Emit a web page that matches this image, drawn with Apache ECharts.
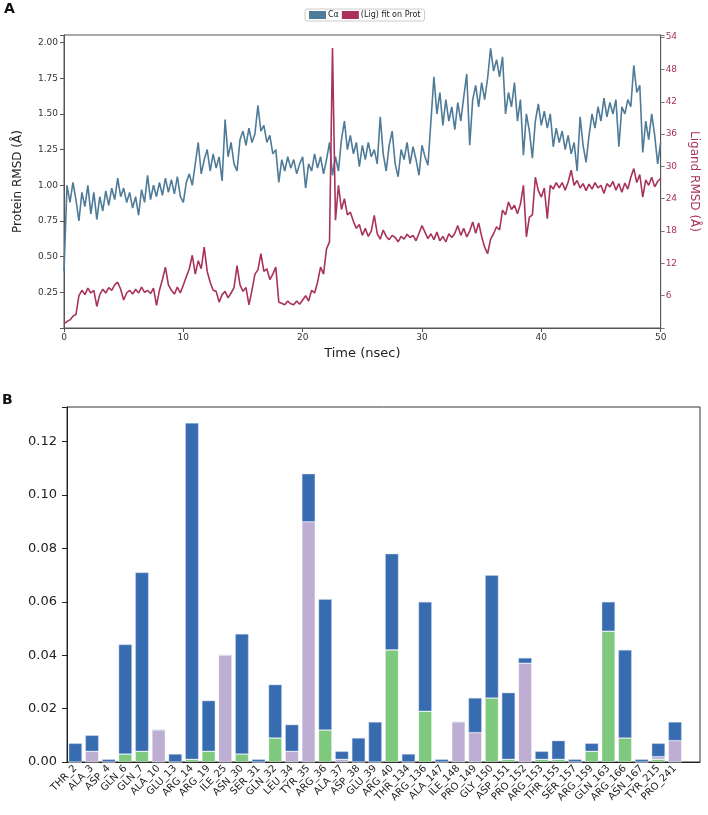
<!DOCTYPE html>
<html>
<head>
<meta charset="utf-8">
<script src="https://cdn.jsdelivr.net/npm/echarts@6/dist/echarts.min.js"></script>
<style>
html,body{margin:0;padding:0;background:#fff;}
#main{width:708px;height:815px;}
</style>
</head>
<body>
<div id="main"></div>
<script>
// panel A: RMSD sampled every 0.25 ns
var timeStep = 0.25;
var proteinRmsd = [
0.40,1.00,0.88,1.02, 0.90,0.75,0.95,0.85, 1.00,0.80,0.95,0.76, 0.92,0.82,0.96,0.86,
0.98,0.90,1.05,0.92, 0.98,0.88,0.95,0.84, 0.92,0.79,0.97,0.88, 1.07,0.90,1.00,0.92,
1.02,0.93,1.05,0.95, 1.04,0.94,1.06,0.92, 0.88,1.02,1.08,1.00, 1.15,1.30,1.08,1.18,
1.25,1.10,1.22,1.12, 1.20,1.03,1.46,1.20, 1.30,1.15,1.10,1.32, 1.38,1.28,1.40,1.30,
1.36,1.56,1.38,1.42, 1.30,1.35,1.22,1.25, 1.02,1.18,1.10,1.20, 1.12,1.18,1.08,1.15,
1.20,0.98,1.15,1.10, 1.22,1.12,1.20,1.08, 1.18,1.30,1.07,1.20, 1.10,1.32,1.45,1.25,
1.35,1.22,1.30,1.13, 1.28,1.18,1.30,1.20, 1.25,1.15,1.48,1.22, 1.10,1.28,1.38,1.15,
1.06,1.25,1.18,1.30, 1.15,1.27,1.18,1.07, 1.28,1.20,1.14,1.45, 1.76,1.50,1.65,1.42,
1.60,1.45,1.55,1.39, 1.58,1.45,1.62,1.78, 1.28,1.60,1.70,1.55, 1.72,1.60,1.75,1.96,
1.80,1.88,1.76,1.90, 1.50,1.65,1.55,1.72, 1.45,1.60,1.21,1.50, 1.38,1.19,1.45,1.57,
1.42,1.52,1.40,1.50, 1.27,1.40,1.30,1.38, 1.25,1.35,1.22,1.30, 1.10,1.48,1.28,1.16,
1.35,1.50,1.40,1.55, 1.45,1.61,1.48,1.58, 1.50,1.60,1.27,1.55, 1.50,1.60,1.55,1.84,
1.65,1.70,1.23,1.45, 1.32,1.50,1.35,1.15, 1.30
];
var ligandRmsd = [
0.8,1.2,1.5,2.2, 2.5,6.0,7.0,6.2, 7.4,6.5,7.0,4.0, 6.2,7.2,6.5,7.5,
7.0,8.0,8.5,7.2, 5.2,6.5,7.0,6.3, 7.2,6.5,7.6,6.6, 7.0,6.4,7.4,4.2,
7.0,9.0,11.3,8.0, 7.0,6.3,7.6,6.5, 8.0,9.5,11.0,13.5, 10.0,12.5,11.0,15.0,
10.5,8.5,7.0,6.8, 4.8,6.2,6.8,5.6, 6.5,7.5,11.6,8.0, 6.8,7.5,4.3,7.0,
10.0,10.8,13.8,10.5, 11.0,9.0,10.0,11.3, 4.8,4.6,4.3,5.0, 4.5,4.3,5.0,4.4,
5.2,6.0,5.0,7.0, 6.5,8.5,11.3,10.0, 14.7,16.0,52.0,20.0, 26.5,22.0,24.0,21.0,
21.5,19.8,18.5,19.2, 17.2,18.5,17.0,18.0, 20.9,17.5,16.5,18.2, 17.0,16.4,17.2,16.8,
16.0,17.0,16.5,17.4, 16.8,17.2,16.2,17.6, 19.0,17.8,16.6,17.5, 16.4,17.8,16.2,17.0,
16.0,17.5,16.8,17.6, 19.0,17.2,18.5,16.9, 18.0,19.7,17.6,19.5, 17.0,15.0,13.8,16.5,
17.5,18.8,18.2,21.9, 21.0,23.4,22.0,22.8, 21.2,23.0,26.5,16.9, 20.6,21.0,28.0,25.5,
24.3,26.0,20.3,26.5, 25.8,27.0,26.0,27.0, 25.6,27.1,29.3,26.5, 27.4,26.0,26.8,25.5,
26.7,25.8,27.0,26.0, 26.5,25.0,26.8,26.2, 27.2,25.6,26.8,25.2, 26.9,25.8,28.0,29.6,
27.0,28.5,24.3,27.5, 26.5,28.0,26.2,27.2, 27.8
];

// panel B: protein-ligand contacts
var residues = ['THR_2','ALA_3','ASP_4','GLN_6','GLN_7','ALA_10','GLU_13','ARG_14','ARG_19','ILE_25',
    'ASN_30','SER_31','GLN_32','LEU_34','TYR_35','ARG_36','ALA_37','ASP_38','GLU_39','ARG_40',
    'THR_134','ARG_136','ALA_147','ILE_148','PRO_149','GLY_150','ASP_151','PRO_152','ARG_153','THR_155',
    'SER_157','ARG_159','GLN_163','ARG_166','ASN_167','TYR_215','PRO_241',''];
var hbonds = [0,0,0,0.003,0.004,0,0,0.001,0.004,0,
    0.003,0,0.009,0,0,0.012,0,0,0,0.042,
    0,0.019,0,0,0,0.024,0.001,0,0.001,0.001,
    0,0.004,0.049,0.009,0,0.001,0];
var hydrophobic = [0,0.004,0,0,0,0.012,0,0,0,0.040,
    0,0,0,0.004,0.090,0,0.001,0,0,0,
    0,0,0,0.015,0.011,0,0,0.037,0,0,
    0,0,0,0,0,0.001,0.008];
var waterBridges = [0.007,0.006,0.001,0.041,0.067,0,0.003,0.126,0.019,0,
    0.045,0.001,0.020,0.010,0.018,0.049,0.003,0.009,0.015,0.036,
    0.003,0.041,0.001,0,0.013,0.046,0.025,0.002,0.003,0.007,
    0.001,0.003,0.011,0.033,0.001,0.005,0.007];

var protColor = '#4f7b98';
var ligColor = '#a8325c';
var font = 'DejaVu Sans';

function toPairs(arr){
    var out = [];
    for (var i = 0; i < arr.length; i++) out.push([i * timeStep, arr[i]]);
    return out;
}

var myChart = echarts.init(document.getElementById('main'));
var option = {
    backgroundColor: '#fff',
    animation: false,
    textStyle: {fontFamily: font},
    graphic: [
        {type: 'text', left: 4, top: 2, style: {text: 'A', font: 'bold 14px ' + font, fill: '#111'}},
        {type: 'text', left: 2, top: 393, style: {text: 'B', font: 'bold 14px ' + font, fill: '#111'}}
    ],
    legend: {
        data: [{name: 'Cα', icon: 'rect'}, {name: '(Lig) fit on Prot', icon: 'rect'}],
        left: 305, top: 9,
        itemWidth: 17, itemHeight: 8, itemGap: 3,
        padding: [2, 4],
        borderColor: '#cccccc', borderWidth: 1, borderRadius: 2,
        textStyle: {fontSize: 8, color: '#222', padding: [0, 0, 0, -3]}
    },
    grid: [
        {left: 64, top: 35, width: 602, height: 293, show: true, borderColor: '#555', borderWidth: 1},
        {left: 67, top: 407, width: 633, height: 355, show: true, borderColor: '#333', borderWidth: 1}
    ],
    xAxis: [
        {
            type: 'value', gridIndex: 0, min: 0, max: 50, interval: 10,
            name: 'Time (nsec)', nameLocation: 'middle', nameGap: 19,
            nameTextStyle: {fontSize: 13, color: '#222'},
            axisLine: {lineStyle: {color: '#555'}},
            axisTick: {lineStyle: {color: '#555'}, length: 4},
            axisLabel: {fontSize: 9, color: '#333', margin: 5},
            splitLine: {show: false}
        },
        {
            type: 'category', gridIndex: 1, data: residues,
            axisLine: {lineStyle: {color: '#222'}},
            axisTick: {alignWithLabel: true, interval: function(i){ return i < residues.length - 1; }, length: 5, lineStyle: {color: '#222'}},
            axisLabel: {interval: 0, rotate: 45, fontSize: 10, color: '#222', margin: 5},
            splitLine: {show: false}
        }
    ],
    yAxis: [
        {
            type: 'value', gridIndex: 0, min: 0, max: 2.053, interval: 0.25,
            name: 'Protein RMSD (Å)', nameLocation: 'middle', nameGap: 40,
            nameTextStyle: {fontSize: 12, color: '#222'},
            axisLine: {show: true, lineStyle: {color: '#555'}},
            axisTick: {show: true, length: 4, lineStyle: {color: '#555'}},
            axisLabel: {fontSize: 9, color: '#333', margin: 6,
                formatter: function(v){ return (v > 0.01 && v < 2.01) ? v.toFixed(2) : ''; }},
            splitLine: {show: false}
        },
        {
            type: 'value', gridIndex: 0, position: 'right', min: 0, max: 54.4, interval: 6,
            name: 'Ligand RMSD (Å)', nameLocation: 'middle', nameGap: 24, nameRotate: -90,
            nameTextStyle: {fontSize: 12, color: ligColor},
            axisLine: {show: true, lineStyle: {color: '#555'}},
            axisTick: {show: true, length: 4, lineStyle: {color: '#777'}},
            axisLabel: {fontSize: 9, color: ligColor, margin: 5,
                formatter: function(v){ return (v > 0 && v <= 54) ? v : ''; }},
            splitLine: {show: false}
        },
        {
            type: 'value', gridIndex: 1, min: 0, max: 0.133, interval: 0.02,
            axisLine: {show: true, lineStyle: {color: '#222'}},
            axisTick: {show: true, length: 5, lineStyle: {color: '#222'}},
            axisLabel: {fontSize: 13, color: '#222', margin: 10,
                formatter: function(v){ return v <= 0.121 ? v.toFixed(2) : ''; }},
            splitLine: {show: false}
        }
    ],
    series: [
        {
            name: 'Cα', type: 'line', xAxisIndex: 0, yAxisIndex: 0,
            data: toPairs(proteinRmsd), showSymbol: false,
            lineStyle: {color: protColor, width: 1.6}, itemStyle: {color: protColor}
        },
        {
            name: '(Lig) fit on Prot', type: 'line', xAxisIndex: 0, yAxisIndex: 1,
            data: toPairs(ligandRmsd), showSymbol: false,
            lineStyle: {color: ligColor, width: 1.6}, itemStyle: {color: ligColor}
        },
        {
            name: 'H-bonds', type: 'bar', xAxisIndex: 1, yAxisIndex: 2, stack: 'contacts',
            data: hbonds, barWidth: '80%',
            itemStyle: {color: '#7fc97f', borderColor: 'rgba(255,255,255,0.5)', borderWidth: 0.6}
        },
        {
            name: 'Hydrophobic', type: 'bar', xAxisIndex: 1, yAxisIndex: 2, stack: 'contacts',
            data: hydrophobic, barWidth: '80%',
            itemStyle: {color: '#beaed4', borderColor: 'rgba(255,255,255,0.5)', borderWidth: 0.6}
        },
        {
            name: 'Water Bridges', type: 'bar', xAxisIndex: 1, yAxisIndex: 2, stack: 'contacts',
            data: waterBridges, barWidth: '80%',
            itemStyle: {color: '#386cb0', borderColor: 'rgba(200,215,240,0.7)', borderWidth: 0.6}
        }
    ]
};
myChart.setOption(option);
</script>
</body>
</html>
